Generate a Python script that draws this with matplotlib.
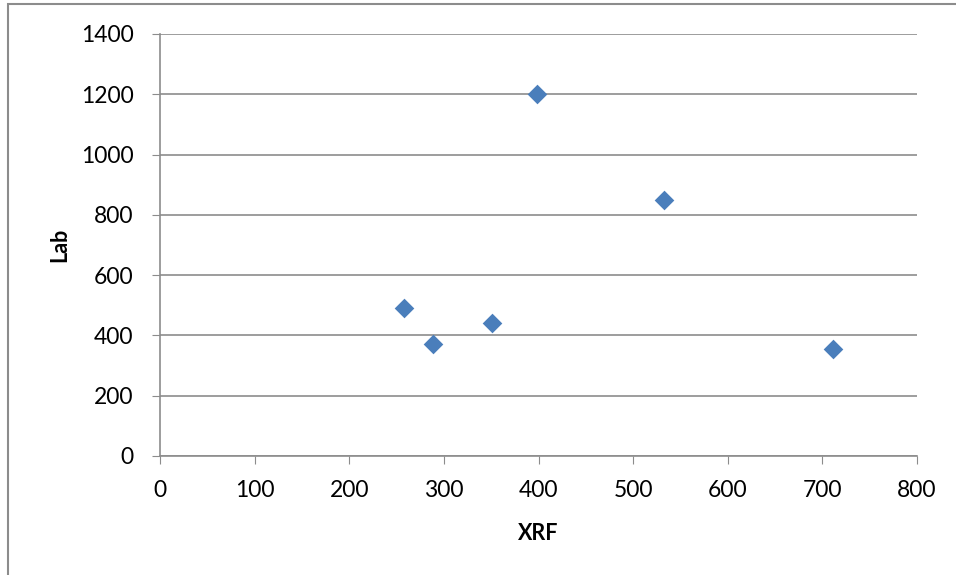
import matplotlib.pyplot as plt
from matplotlib.patches import Rectangle

# values
xrf = [258, 288, 351, 398, 533, 711]
lab = [490, 370, 440, 1200, 850, 355]

x_ticks = [0, 100, 200, 300, 400, 500, 600, 700, 800]
y_ticks = [0, 200, 400, 600, 800, 1000, 1200, 1400]

plt.rcParams['font.family'] = ['Lato', 'DejaVu Sans']

fig = plt.figure(figsize=(9.56, 5.75), dpi=100)
ax = fig.add_axes([160 / 956, 1 - 456 / 575, 757 / 956, 422 / 575])

# outer chart frame (only top and left edges show in the crop)
fig.patches.append(Rectangle((8 / 956, -0.1), 1.2, 1 - 4 / 575 + 0.1,
                             transform=fig.transFigure, fill=False,
                             edgecolor='#8c8c8c', linewidth=1.5))

ax.scatter(xrf, lab, marker='D', s=100, color='#4a7ebb', zorder=3, linewidths=0)

ax.set_xlim(0, 800)
ax.set_ylim(0, 1400)
ax.set_xticks(x_ticks)
ax.set_yticks(y_ticks)
ax.grid(axis='y', color='#8c8c8c', linewidth=1.2)
ax.set_axisbelow(True)

for side in ['top', 'right']:
    ax.spines[side].set_visible(False)
for side in ['left', 'bottom']:
    ax.spines[side].set_color('#8c8c8c')
    ax.spines[side].set_linewidth(1.2)

ax.tick_params(axis='x', direction='out', length=6, color='#8c8c8c', labelsize=16.5, pad=11)
ax.tick_params(axis='y', direction='out', length=6, color='#8c8c8c', labelsize=16.5, pad=13)

ax.set_xlabel('XRF', fontsize=15.5, fontweight='bold', labelpad=16)
ax.set_ylabel('Lab', fontsize=15.5, fontweight='bold', labelpad=8)

plt.savefig('out.png', dpi=100)
